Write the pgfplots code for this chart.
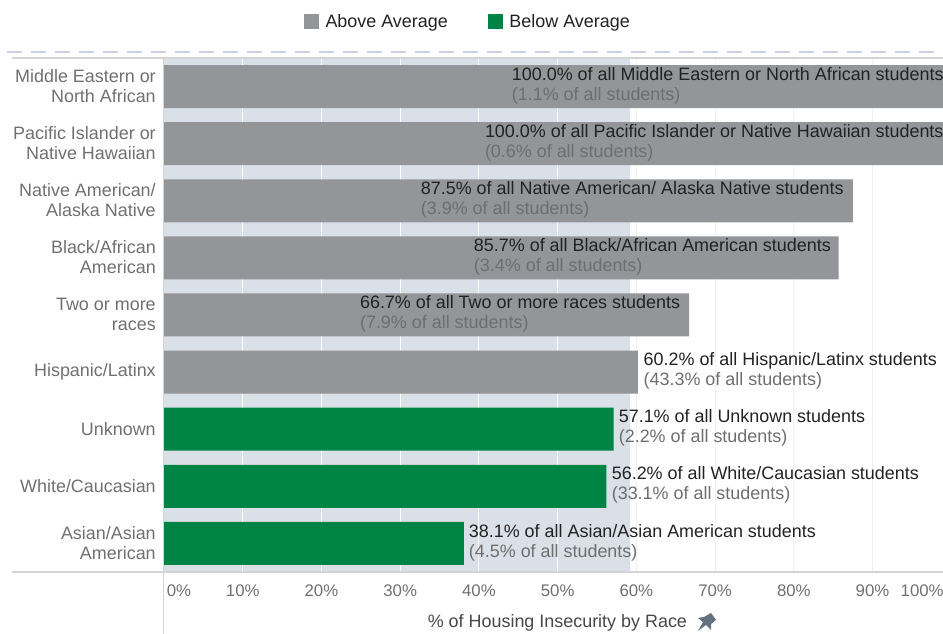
\documentclass[border=0pt]{standalone}
\usepackage{pgfplots}
\pgfplotsset{compat=1.18}
\usepackage{fontspec}
\setmainfont{Liberation Sans}
\definecolor{barg}{HTML}{939598}
\definecolor{bargreen}{HTML}{008445}
\definecolor{band}{HTML}{D9E0E8}
\definecolor{lab}{HTML}{707070}
\definecolor{dark}{HTML}{222222}
\definecolor{sub}{HTML}{6E6E6E}
\definecolor{rule}{HTML}{D4D4D4}
\newcommand{\rowlab}[4]{\node[anchor=west,inner sep=0pt,align=left,font=\fontsize{13.45}{15}\selectfont,yshift=0.8pt] at (axis cs:#1,#2) {\textcolor{dark}{#3}\\\textcolor{sub}{#4}};}
\begin{document}
\begin{tikzpicture}
\path[use as bounding box] (0,0) rectangle (707.25pt,475.5pt);
\begin{axis}[
  at={(123pt,46.5pt)}, anchor=south west,
  scale only axis, width=584.25pt, height=385.5pt,
  xmin=0, xmax=98.95, ymin=-0.5, ymax=8.5, y dir=reverse,
  clip mode=individual,
  axis line style={draw=none},
  xtick={10,20,30,40,50,60,70,80,90},
  xticklabels={10\%,20\%,30\%,40\%,50\%,60\%,70\%,80\%,90\%},
  extra x ticks={1.9,96.3},
  extra x tick labels={0\%,100\%},
  extra x tick style={grid=none, major tick length=0pt},
  xmajorgrids, grid style={color=black!6,line width=0.7pt},
  major tick length=4pt,
  x tick style={color=black!8,line width=0.7pt},
  xtick pos=lower,
  ytick={0,1,2,3,4,5,6,7,8},
  yticklabels={{Middle Eastern or\\North African},{Pacific Islander or\\Native Hawaiian},{Native American/\\Alaska Native},{Black/African\\American},{Two or more\\races},{Hispanic/Latinx},{Unknown},{White/Caucasian},{Asian/Asian\\American}},
  y tick style={draw=none},
  yticklabel style={align=right,font=\fontsize{13.45}{15}\selectfont,text=lab,inner sep=0pt,xshift=-6pt,yshift=0.4pt},
  xticklabel style={font=\fontsize{12.6}{15}\selectfont,text=lab,inner sep=0pt,yshift=-9.75pt},
  /pgf/number format/assume math mode=true,
  xlabel={\% of Housing Insecurity by Race},
  xlabel style={at={(axis description cs:0.505,0)},anchor=center,yshift=-38.25pt,font=\fontsize{13.45}{15}\selectfont,text=black!72},
  legend style={at={(axis description cs:0.1795,1.0705)},anchor=west,draw=none,fill=none,legend columns=2,inner sep=0pt,outer sep=0pt,
    font=\fontsize{13.45}{15}\selectfont,text=dark,/tikz/every even column/.append style={column sep=28pt},/tikz/every odd column/.append style={column sep=3pt}},
  legend image code/.code={\fill[#1] (0pt,-5.6pt) rectangle (11.25pt,5.6pt);},
]
\addplot[fill=band,draw=none,forget plot] coordinates {(0,-0.5)(59.2,-0.5)(59.2,8.5)(0,8.5)} \closedcycle;
\draw[white,line width=0.7pt] (axis cs:10,-0.5)--(axis cs:10,8.5) (axis cs:20,-0.5)--(axis cs:20,8.5) (axis cs:30,-0.5)--(axis cs:30,8.5) (axis cs:40,-0.5)--(axis cs:40,8.5) (axis cs:50,-0.5)--(axis cs:50,8.5);
\addplot[xbar,bar width=32.25pt,bar shift=0pt,fill=barg,draw=none] coordinates {(100,0)(100,1)(87.5,2)(85.7,3)(66.7,4)(60.2,5)};
\addlegendentry{Above Average}
\addplot[xbar,bar width=32.25pt,bar shift=0pt,fill=bargreen,draw=none] coordinates {(57.1,6)(56.2,7)(38.1,8)};
\addlegendentry{Below Average}
\rowlab{44.16}{0}{100.0\% of all Middle Eastern or North African students}{(1.1\% of all students)}
\rowlab{40.74}{1}{100.0\% of all Pacific Islander or Native Hawaiian students}{(0.6\% of all students)}
\rowlab{32.6}{2}{87.5\% of all Native American/ Alaska Native students}{(3.9\% of all students)}
\rowlab{39.34}{3}{85.7\% of all Black/African American students}{(3.4\% of all students)}
\rowlab{24.87}{4}{66.7\% of all Two or more races students}{(7.9\% of all students)}
\rowlab{60.9}{5}{60.2\% of all Hispanic/Latinx students}{(43.3\% of all students)}
\rowlab{57.74}{6}{57.1\% of all Unknown students}{(2.2\% of all students)}
\rowlab{56.85}{7}{56.2\% of all White/Caucasian students}{(33.1\% of all students)}
\rowlab{38.7}{8}{38.1\% of all Asian/Asian American students}{(4.5\% of all students)}
\end{axis}
\begin{scope}[x=0.75pt,y=-0.75pt,yshift=475.5pt]
\draw[rule,line width=0.8pt] (12,572)--(943,572);
\draw[rule,line width=0.8pt] (12,58)--(943,58);
\draw[rule,line width=0.8pt] (163.5,58)--(163.5,634);
\draw[color={rgb,255:red,200;green,210;blue,228},line width=1.1pt,dash pattern=on 11.5pt off 6.5pt] (7,52)--(943,52);
\fill[color={rgb,255:red,98;green,112;blue,128}] (698,631)--(703,622)--(698,618)--(704,617)--(711,613)--(716,620)--(711,624)--(711,630)--(706,625)--cycle;
\end{scope}
\end{tikzpicture}
\end{document}
